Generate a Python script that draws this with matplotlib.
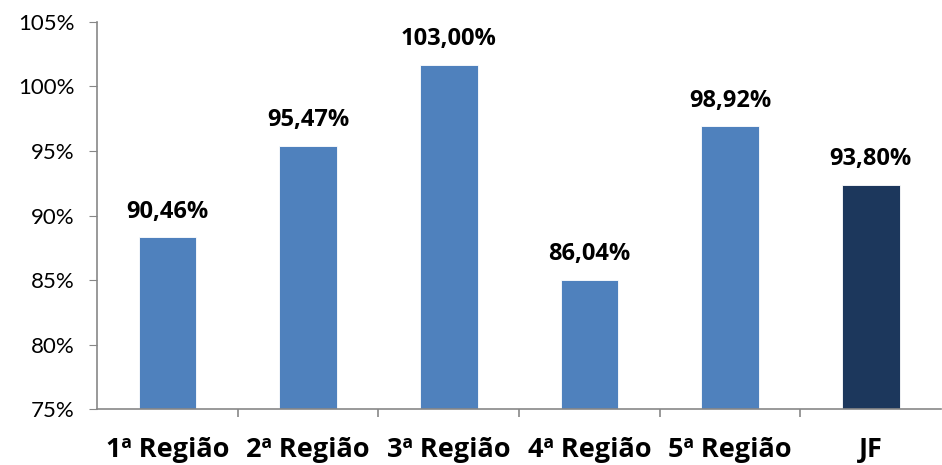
import matplotlib.pyplot as plt
from matplotlib.ticker import FixedLocator, FuncFormatter

# categories and values
categorias = ['1ª Região', '2ª Região', '3ª Região', '4ª Região', '5ª Região', 'JF']
alturas = [88.3, 95.4, 101.7, 85.0, 96.9, 92.4]  # bar heights as drawn
rotulos = ['90,46%', '95,47%', '103,00%', '86,04%', '98,92%', '93,80%']
cores = ['#4F81BD', '#4F81BD', '#4F81BD', '#4F81BD', '#4F81BD', '#1C375C']

plt.rcParams['font.family'] = ['Lato', 'DejaVu Sans']
negrito = ['Open Sans', 'DejaVu Sans']

fig = plt.figure(figsize=(9.42, 4.65), dpi=100)
ax = fig.add_axes([0.103, 0.1204, 0.896, 0.8323])

x = list(range(len(categorias)))
bars = ax.bar(x, [h - 75 for h in alturas], bottom=75, width=0.41, color=cores,
              edgecolor='white', linewidth=0.6)

for b, txt in zip(bars, rotulos):
    ax.annotate(txt, (b.get_x() + b.get_width() / 2, b.get_y() + b.get_height()),
                xytext=(0, 10), textcoords='offset points', ha='center', va='bottom',
                fontsize=17, fontweight='bold', family=negrito, color='black')

ax.set_xlim(-0.5, len(categorias) - 0.5)
ax.set_ylim(75, 105)
ax.set_yticks(range(75, 106, 5))
ax.yaxis.set_major_formatter(FuncFormatter(lambda v, p: f'{int(v)}%'))
ax.tick_params(axis='y', labelsize=16, length=6, color='#878787', pad=10)

ax.set_xticks(x)
ax.set_xticklabels(categorias, fontsize=19.5, fontweight='bold', family=negrito)
ax.tick_params(axis='x', which='major', length=0, pad=20.5)
ax.xaxis.set_minor_locator(FixedLocator([i + 0.5 for i in x[:-1]]))
ax.tick_params(axis='x', which='minor', length=6, color='#878787', width=1.2)

for s in ['top', 'right']:
    ax.spines[s].set_visible(False)
for s in ['left', 'bottom']:
    ax.spines[s].set_color('#878787')
    ax.spines[s].set_linewidth(1.2)

fig.savefig('out.png', dpi=100)
